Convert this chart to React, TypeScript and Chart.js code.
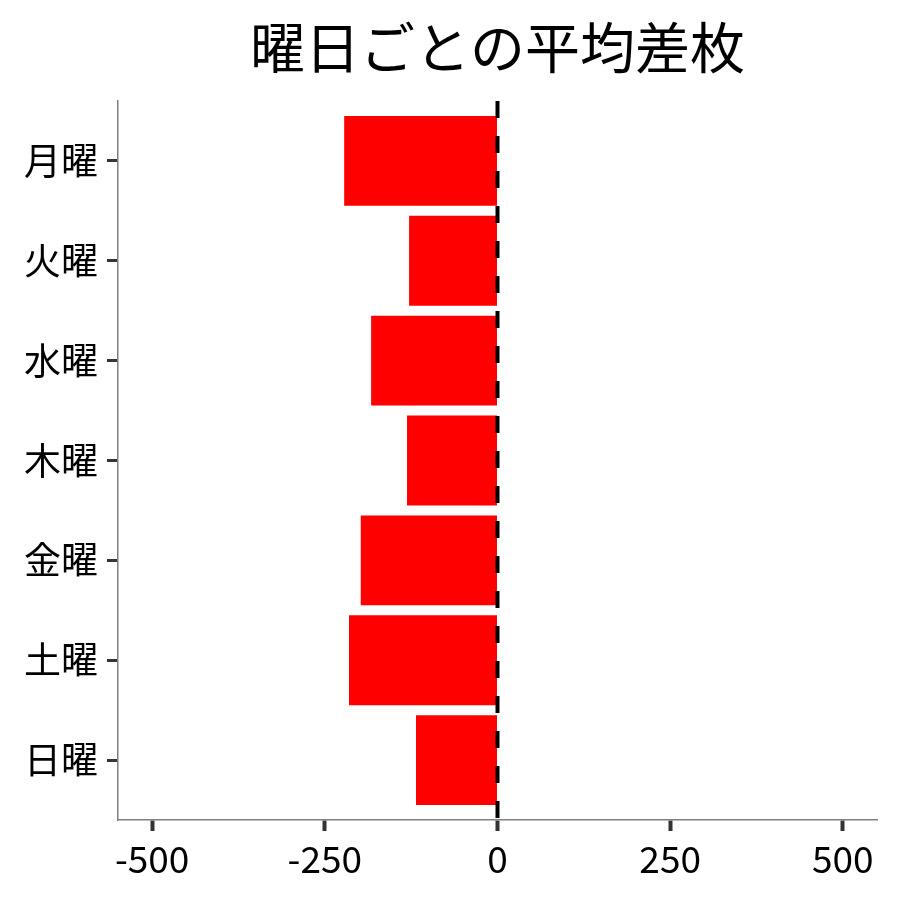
import { Chart, registerables } from 'chart.js';
import { useEffect, useRef } from 'react';

Chart.register(...registerables);

const days = ['月曜', '火曜', '水曜', '木曜', '金曜', '土曜', '日曜'];
const avgDiff = [-222, -128, -183, -131, -198, -215, -118];
const xTicks = [-500, -250, 0, 250, 500];
const xLimit = 549.5;

const FONT = '"Noto Sans CJK JP", "Noto Sans", sans-serif';

// dashed reference line at x = 0, drawn over the bars
const zeroLine = {
    id: 'zeroLine',
    afterDatasetsDraw(chart: any) {
        const { ctx, chartArea, scales } = chart;
        const x = scales.x.getPixelForValue(0);
        ctx.save();
        ctx.strokeStyle = '#000000';
        ctx.lineWidth = 4;
        ctx.setLineDash([17, 18]);
        ctx.beginPath();
        ctx.moveTo(x, chartArea.top);
        ctx.lineTo(x, chartArea.bottom);
        ctx.stroke();
        ctx.restore();
    },
};

const App = () => {
    const chartRef = useRef<HTMLCanvasElement>(null);

    useEffect(() => {
        if (!chartRef.current) return;
        const ctx = chartRef.current.getContext('2d');
        if (!ctx) return;

        const chart = new Chart(ctx, {
            type: 'bar',
            data: {
                datasets: [
                    {
                        label: '平均差枚',
                        data: avgDiff.map((v, i) => ({ x: v, y: i + 1 })),
                        backgroundColor: '#ff0000',
                        borderWidth: 0,
                        barPercentage: 0.9,
                        categoryPercentage: 1,
                    },
                ],
            },
            options: {
                indexAxis: 'y',
                animation: false,
                responsive: true,
                maintainAspectRatio: false,
                layout: {
                    padding: { left: 0, right: 23, top: 0, bottom: 0 },
                },
                plugins: {
                    legend: { display: false },
                    tooltip: { enabled: false },
                    title: {
                        display: true,
                        text: '曜日ごとの平均差枚',
                        color: '#000000',
                        fullSize: false,
                        font: { family: FONT, size: 55, weight: 'normal' },
                        padding: { top: 14, bottom: 21 },
                    },
                },
                scales: {
                    x: {
                        type: 'linear',
                        min: -xLimit,
                        max: xLimit,
                        afterBuildTicks: (axis: any) => {
                            axis.ticks = xTicks.map((v) => ({ value: v }));
                        },
                        afterFit: (axis: any) => {
                            axis.height = 80;
                        },
                        grid: {
                            drawOnChartArea: false,
                            drawTicks: true,
                            tickLength: 11,
                            tickWidth: 4,
                            tickColor: '#333333',
                        },
                        border: { display: true, color: '#808080', width: 1.5 },
                        ticks: {
                            color: '#000000',
                            padding: 6,
                            font: { family: FONT, size: 37 },
                        },
                    },
                    y: {
                        type: 'linear',
                        reverse: true,
                        offset: false,
                        min: 0.4,
                        max: 7.6,
                        afterBuildTicks: (axis: any) => {
                            axis.ticks = days.map((_, i) => ({ value: i + 1 }));
                        },
                        afterFit: (axis: any) => {
                            axis.width = 118;
                        },
                        grid: {
                            offset: false,
                            drawOnChartArea: false,
                            drawTicks: true,
                            tickLength: 11,
                            tickWidth: 3,
                            tickColor: '#333333',
                        },
                        border: { display: true, color: '#808080', width: 1.5 },
                        ticks: {
                            color: '#000000',
                            padding: 9,
                            font: { family: FONT, size: 37 },
                            callback: (value: any) => days[Number(value) - 1] ?? '',
                        },
                    },
                },
            },
            plugins: [zeroLine],
        });

        return () => {
            chart.destroy();
        };
    }, []);

    return (
        <div style={{ position: 'absolute', left: 0, top: 0, width: 900, height: 900, background: '#ffffff' }}>
            <canvas ref={chartRef}></canvas>
        </div>
    );
};

export default App;
